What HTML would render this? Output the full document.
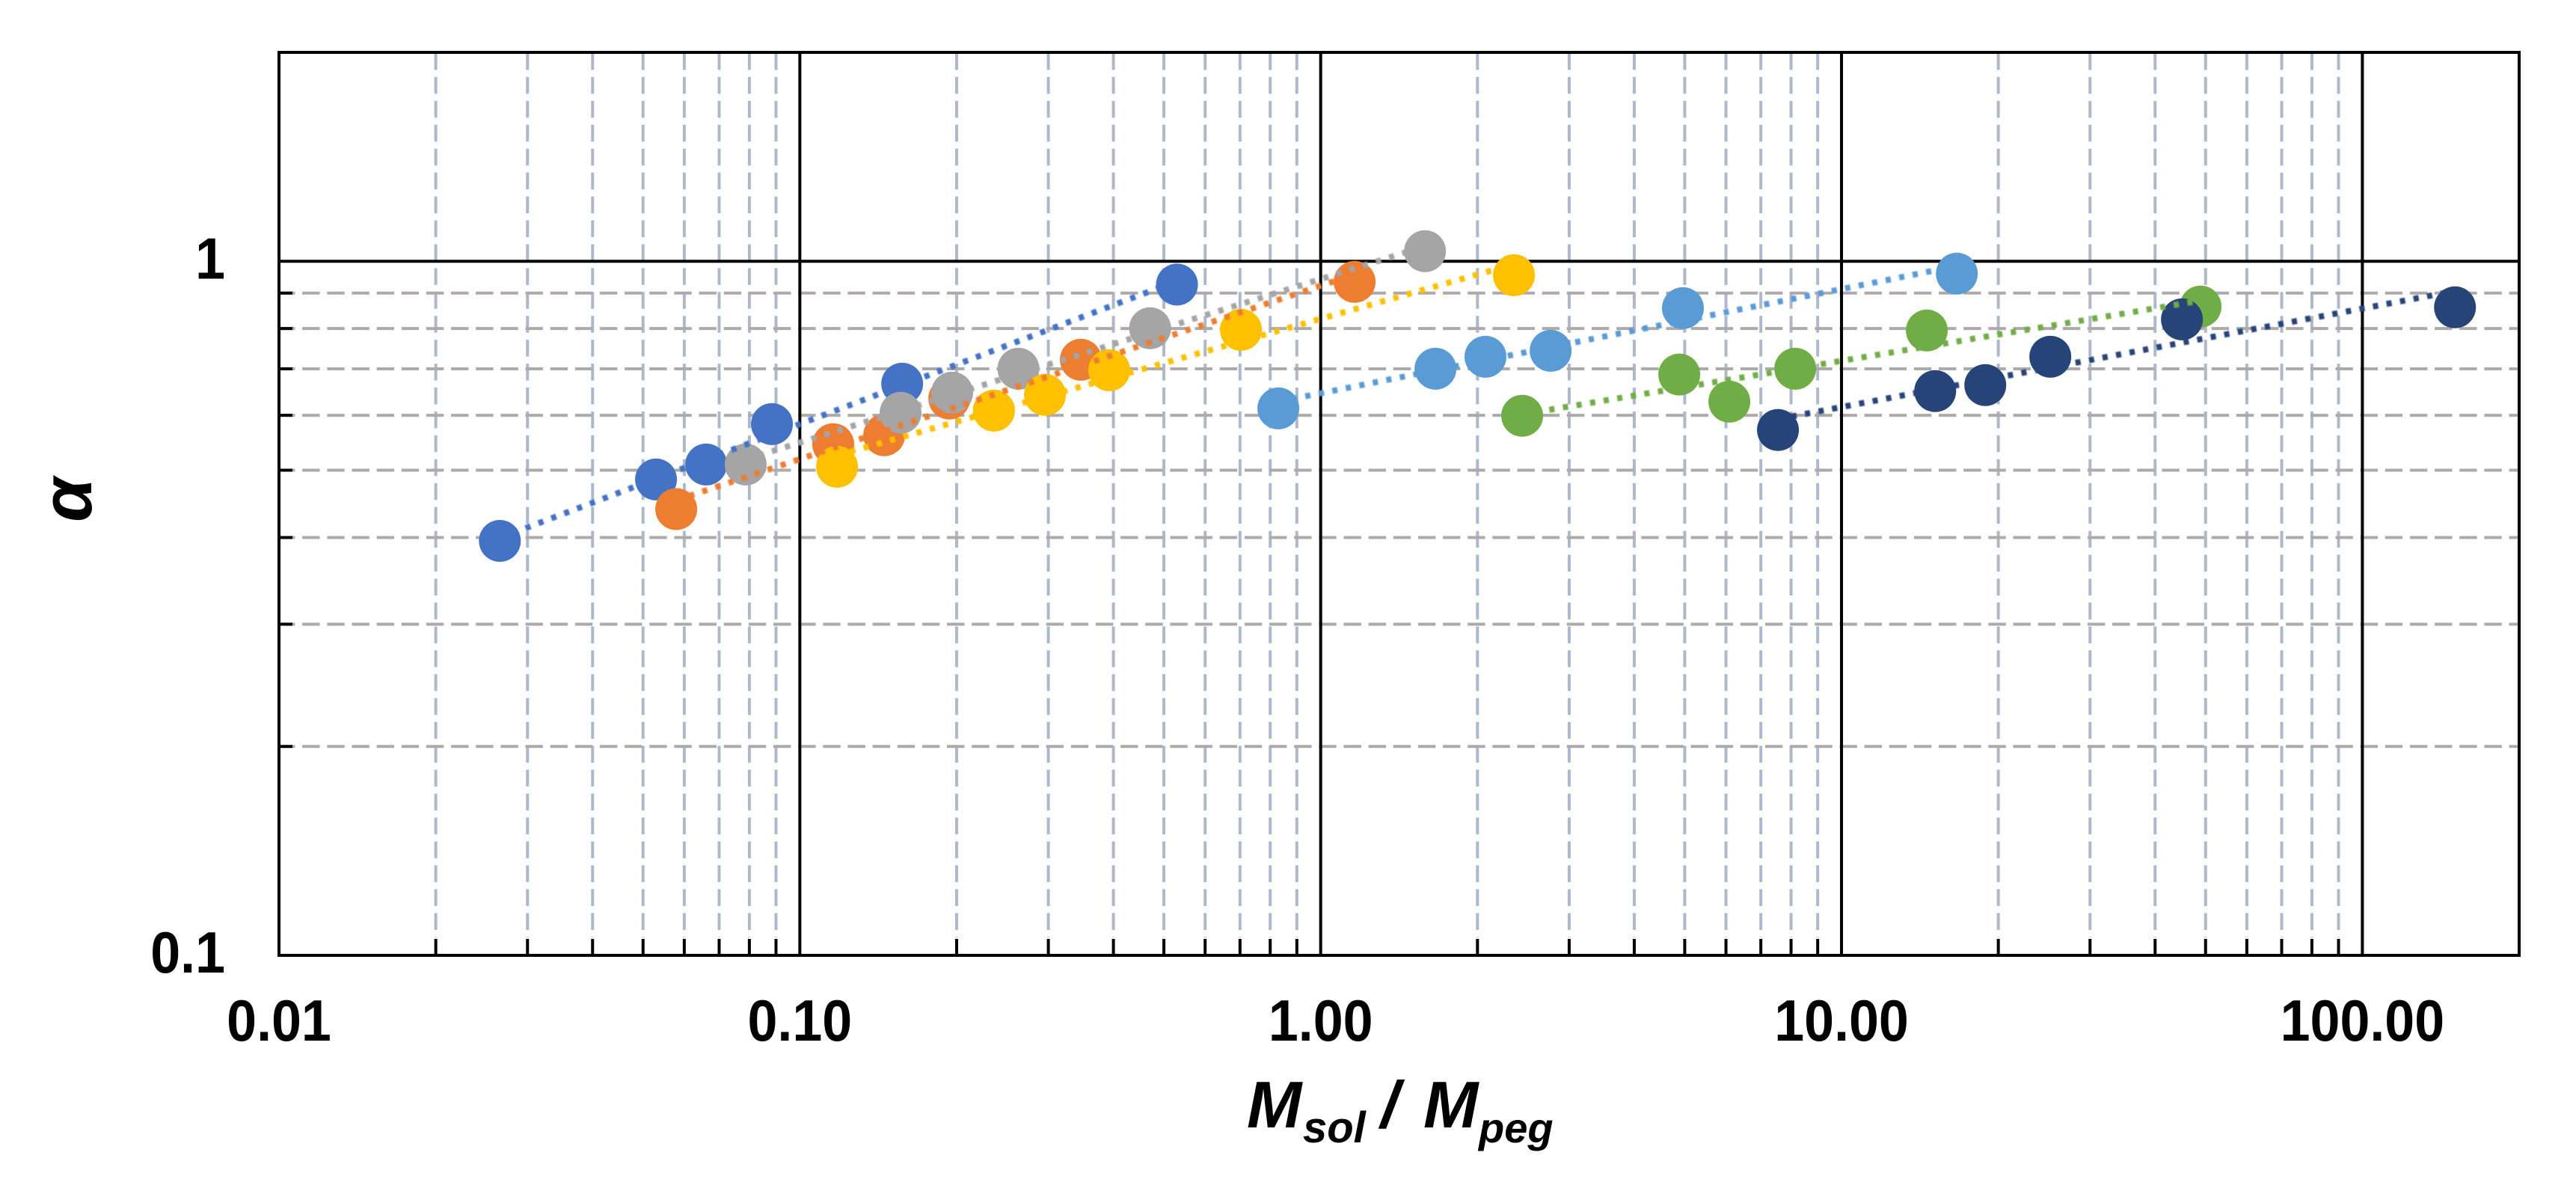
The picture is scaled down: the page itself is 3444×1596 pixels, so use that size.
<!DOCTYPE html>
<html lang="en">
<head>
<meta charset="utf-8">
<title>Alpha versus Msol / Mpeg</title>
<style>
html,body{margin:0;padding:0;background:#fff;}
svg{display:block;}
text{font-family:"Liberation Sans",sans-serif;font-weight:bold;fill:#000;}
#trends{filter:blur(0.9px);}
</style>
</head>
<body>
<svg id="chart" xmlns="http://www.w3.org/2000/svg" width="3444" height="1596" viewBox="0 0 3444 1596">
  <rect x="0" y="0" width="3444" height="1596" fill="#fff"/>
  <g id="grid"></g>
  <g id="marks"></g>
  <g id="trends"></g>
  <g id="axes"></g>
  <text transform="translate(122,668) rotate(-90)" text-anchor="middle" font-size="96" font-style="italic">α</text>
  <text font-style="italic" font-size="88">
    <tspan x="1667" y="1507">M</tspan><tspan x="1742" y="1527" font-size="58">sol</tspan><tspan x="1846" y="1507">/</tspan><tspan x="1903" y="1507">M</tspan><tspan x="1977" y="1527" font-size="56">peg</tspan>
  </text>
</svg>
<script>
const xMajorTicks = [0.01, 0.1, 1, 10, 100];
const xTickLabels = ["0.01", "0.10", "1.00", "10.00", "100.00"];
const xMinorMultipliers = [2, 3, 4, 5, 6, 7, 8, 9];
const yMinorTicks = [0.2, 0.3, 0.4, 0.5, 0.6, 0.7, 0.8, 0.9];
const yMajorTicks = [0.1, 1];
const yTickLabels = ["0.1", "1"];
const xDomain = [0.01, 200];
const yDomain = [0.1, 2];

const seriesNames = ["blue", "orange", "gray", "yellow", "light-blue", "green", "navy"];
const seriesColors = ["#4472c4", "#ed7d31", "#a5a5a5", "#ffc000", "#5b9bd5", "#70ad47", "#264478"];
const blueX = [0.02655, 0.05295, 0.0661, 0.0884, 0.1572, 0.5298];
const blueY = [0.3955, 0.485, 0.5096, 0.5827, 0.6662, 0.9258];
const orangeX = [0.0579, 0.1159, 0.1452, 0.1936, 0.3464, 1.162];
const orangeY = [0.4395, 0.5451, 0.5616, 0.6342, 0.7214, 0.9341];
const grayX = [0.0787, 0.1561, 0.1961, 0.2628, 0.4704, 1.586];
const grayY = [0.5096, 0.6049, 0.6468, 0.7002, 0.8009, 1.034];
const yellowX = [0.1179, 0.2358, 0.2956, 0.3927, 0.7029, 2.35];
const yellowY = [0.5058, 0.6094, 0.6421, 0.6967, 0.7966, 0.955];
const lightBlueX = [0.8293, 1.661, 2.072, 2.764, 4.96, 16.65];
const lightBlueY = [0.6138, 0.7002, 0.7286, 0.7432, 0.8562, 0.9598];
const greenX = [2.437, 4.881, 6.09, 8.15, 14.58, 48.9];
const greenY = [0.599, 0.6868, 0.6277, 0.7002, 0.7948, 0.8606];
const navyX = [7.55, 15.13, 18.88, 25.17, 45.04, 150.6];
const navyY = [0.5714, 0.6501, 0.6632, 0.7286, 0.8248, 0.8584];
const seriesX = [blueX, orangeX, grayX, yellowX, lightBlueX, greenX, navyX];
const seriesY = [blueY, orangeY, grayY, yellowY, lightBlueY, greenY, navyY];

const NS = "http://www.w3.org/2000/svg";
const plot = { left: 373, right: 3368, top: 70, bottom: 1277 };
const markerRadius = 28;
const lineWidth = 4;

function xScale(v) {
  const a = Math.log10(xDomain[0]), b = Math.log10(xDomain[1]);
  return plot.left + (Math.log10(v) - a) / (b - a) * (plot.right - plot.left);
}
function yScale(v) {
  const a = Math.log10(yDomain[0]), b = Math.log10(yDomain[1]);
  return plot.bottom - (Math.log10(v) - a) / (b - a) * (plot.bottom - plot.top);
}
function make(tag, attrs, parent) {
  const node = document.createElementNS(NS, tag);
  for (const k in attrs) node.setAttribute(k, attrs[k]);
  parent.appendChild(node);
  return node;
}
function powerFit(xs, ys) {
  const n = xs.length;
  let sx = 0, sy = 0, sxx = 0, sxy = 0;
  for (let i = 0; i < n; i++) {
    const lx = Math.log10(xs[i]), ly = Math.log10(ys[i]);
    sx += lx; sy += ly; sxx += lx * lx; sxy += lx * ly;
  }
  const slope = (n * sxy - sx * sy) / (n * sxx - sx * sx);
  const intercept = (sy - slope * sx) / n;
  return v => Math.pow(10, intercept + slope * Math.log10(v));
}

const grid = document.getElementById("grid");
const marks = document.getElementById("marks");
const trends = document.getElementById("trends");
const axes = document.getElementById("axes");

// vertical minor gridlines and ticks
xMajorTicks.slice(0, 4).forEach(function (major) {
  xMinorMultipliers.forEach(function (m) {
    const x = xScale(major * m);
    const g = make("line", { x1: x, x2: x, y1: 71, y2: plot.bottom - 24, stroke: "#adb9ca", "stroke-width": lineWidth, "stroke-dasharray": "22.5 9.43" }, grid);
    
    
    const t = make("line", { x1: x, x2: x, y1: plot.bottom - 22, y2: plot.bottom, stroke: "#000", "stroke-width": lineWidth }, axes);
    
    
  });
});

// horizontal minor gridlines and ticks
yMinorTicks.forEach(function (v) {
  const y = yScale(v);
  const g = make("line", { x1: 371, x2: plot.right, y1: y, y2: y, stroke: "#aeaaaa", "stroke-width": lineWidth, "stroke-dasharray": "23.4 9.75" }, grid);
  
  
  const t = make("line", { x1: plot.left, x2: plot.left + 18, y1: y, y2: y, stroke: "#000", "stroke-width": lineWidth }, axes);
  
  
});

// major axis lines
xMajorTicks.slice(1).forEach(function (v) {
  const l = make("line", { x1: xScale(v), x2: xScale(v), y1: plot.top, y2: plot.bottom, stroke: "#000", "stroke-width": lineWidth }, grid);
  
  
});
const oneLine = make("line", { x1: plot.left, x2: plot.right, y1: yScale(1), y2: yScale(1), stroke: "#000", "stroke-width": lineWidth }, grid);



// markers
seriesNames.forEach(function (name, s) {
  seriesX[s].forEach(function (xv, i) {
    const c = make("circle", { cx: xScale(xv), cy: yScale(seriesY[s][i]), r: markerRadius, fill: seriesColors[s] }, marks);
    
    
  });
});

// dotted power trendlines
seriesNames.forEach(function (name, s) {
  const xs = seriesX[s];
  const fit = powerFit(xs, seriesY[s]);
  const x0 = xs[0], x1 = xs[xs.length - 1];
  const l = make("line", { x1: xScale(x0), y1: yScale(fit(x0)), x2: xScale(x1), y2: yScale(fit(x1)), stroke: seriesColors[s], "stroke-width": 8, "stroke-dasharray": "7 11.4" }, trends);
  
  
});

const frame = make("rect", { x: plot.left, y: plot.top, width: plot.right - plot.left, height: plot.bottom - plot.top, fill: "none", stroke: "#000", "stroke-width": lineWidth }, axes);



// tick labels
xMajorTicks.forEach(function (v, i) {
  const t = make("text", { transform: "translate(" + xScale(v) + ",1391) scale(0.92,1)", "text-anchor": "middle", "font-size": 78 }, axes);
  t.textContent = xTickLabels[i];
  
  
});
yMajorTicks.forEach(function (v, i) {
  const t = make("text", { transform: "translate(301," + (yScale(v) + 23) + ") scale(0.92,1)", "text-anchor": "end", "font-size": 78 }, axes);
  t.textContent = yTickLabels[i];
  
  
});
</script>
</body>
</html>
